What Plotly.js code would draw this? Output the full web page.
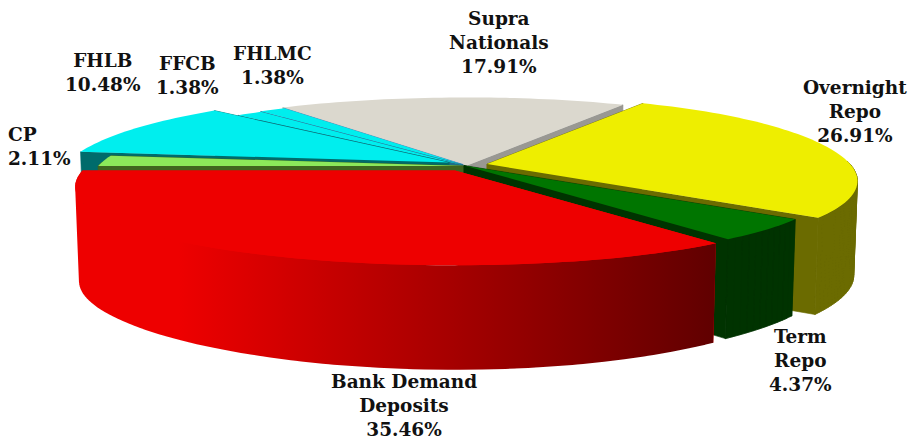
<!DOCTYPE html>
<html>
<head>
<meta charset="utf-8">
<script src="https://cdn.plot.ly/plotly-3.0.1.min.js"></script>
<style>html,body{margin:0;padding:0;background:#fff}#chart{width:910px;height:439px}</style>
</head>
<body>
<div id="chart"></div>
<script>
// Data, clockwise from the Bank Demand Deposits slice
const categories = ['Bank Demand<br>Deposits','CP','FHLB','FFCB','FHLMC','Supra<br>Nationals','Overnight<br>Repo','Term<br>Repo'];
const shares = [35.46, 2.11, 10.48, 1.38, 1.38, 17.91, 26.91, 4.37];

// Styles, same order
const topColors  = ['#ee0000','#8ce85a','#00eeee','#00eeee','#00eeee','#dbd8ce','#eeee00','#007500'];
const wallColors = ['#ee0000','#40651f','#006b6b','#1f6f88','#4f81bd','#999893','#6b6b00','#003300'];
const apexX = [455, 465, 449, 463, 463, 467, 487, 464];
const apexY = [170.5, 166, 162.5, 165, 164.5, 165.5, 164, 165.5];
const radiusScale = [0.988, 0.973, 1.012, 0.97, 0.97, 1, 1, 1];
const paintOrder = [5, 4, 3, 2, 1, 6, 7, 0];
const labelX = [404, 39, 103, 187, 272, 499, 855, 800];
const labelY = [405, 146, 72, 75, 65, 42, 111, 360];

// Oblique view of the disc
function project(scale, deg) {
  const t = deg * Math.PI / 180, u = Math.cos(t), v = Math.sin(t);
  const s = 1 + 0.198 * v + 0.04 * v * v;
  return { x: (370 - 7 * u) * u * s * scale, y: 82 * v * (1 + 0.17 * v) * scale, v: v };
}
function lower(p, cx, cy) {
  const w = Math.max(p.v, 0);
  return { x: cx + p.x * 0.99, y: cy + p.y + 94.5 + 10 * w * w * w };
}
function poly(xs, ys, color, extra, lw) {
  return Object.assign({ type: 'scatter', mode: 'lines', x: xs, y: ys, fill: 'toself', fillcolor: color,
    line: { width: lw || 0, color: color, simplify: false }, hoverinfo: 'skip', showlegend: false }, extra || {});
}

let cum = 180 - shares[0] * 3.6;
const spans = shares.map(s => { const a = [cum, cum + s * 3.6]; cum += s * 3.6; return a; });
const traces = [];

paintOrder.forEach(i => {
  const [a0, a1] = spans[i], cx = apexX[i], cy = apexY[i], k = radiusScale[i];
  const arc = [];
  const n = Math.max(4, Math.ceil((a1 - a0) / 1.5));
  for (let j = 0; j <= n; j++) arc.push(project(k, a0 + (a1 - a0) * j / n));
  const first = arc[0], last = arc[arc.length - 1];
  const wallLine = i === 0 ? 0 : 0.6;

  // radial cut walls
  [first, last].forEach(p => {
    const b = lower(p, cx, cy), c = lower({ x: 0, y: 0, v: 0 }, cx, cy);
    traces.push(poly([cx, cx + p.x, b.x, c.x, cx], [cy, cy + p.y, b.y, c.y, cy], wallColors[i], null, wallLine));
  });

  // outer rim wall as overlapping quads of one winding, only the part facing the viewer
  const rim = arc.filter(p => p.v > -0.06);
  if (rim.length > 1) {
    const xs = [], ys = [];
    for (let j = 0; j < rim.length - 1; j++) {
      const p = rim[j], q = rim[Math.min(j + 2, rim.length - 1)];
      const pb = lower(p, cx, cy), qb = lower(q, cx, cy);
      let qx = [cx + p.x, cx + q.x, qb.x, pb.x], qy = [cy + p.y, cy + q.y, qb.y, pb.y];
      let area = 0;
      for (let m = 0; m < 4; m++) area += qx[m] * qy[(m + 1) % 4] - qx[(m + 1) % 4] * qy[m];
      if (area < 0) { qx.reverse(); qy.reverse(); }
      xs.push(...qx, qx[0], null);
      ys.push(...qy, qy[0], null);
    }
    const extra = i === 0 ? { fillgradient: { type: 'horizontal', start: 76, stop: 715,
      colorscale: [[0, '#ee0000'], [0.16, '#ee0000'], [1, '#600000']] } } : {};
    traces.push(poly(xs, ys, wallColors[i], extra, wallLine));
  }

  // top face
  const tx = [cx].concat(arc.map(p => cx + p.x), [cx]);
  const ty = [cy].concat(arc.map(p => cy + p.y), [cy]);
  traces.push(poly(tx, ty, topColors[i]));
});

const annotations = categories.map((c, i) => ({
  x: labelX[i], y: labelY[i], xref: 'x', yref: 'y', showarrow: false,
  text: '<b>' + c + '<br>' + shares[i].toFixed(2) + '%</b>',
  align: c === 'CP' ? 'left' : 'center'
}));

Plotly.newPlot('chart', traces, {
  width: 910, height: 439,
  margin: { l: 0, r: 0, t: 0, b: 0 },
  paper_bgcolor: '#ffffff', plot_bgcolor: '#ffffff',
  showlegend: false,
  font: { family: '"DejaVu Serif", serif', size: 18.5, color: '#111111' },
  xaxis: { range: [0, 910], visible: false, fixedrange: true },
  yaxis: { range: [439, 0], visible: false, fixedrange: true },
  annotations: annotations
}, { displayModeBar: false, staticPlot: true });
</script>
</body>
</html>
